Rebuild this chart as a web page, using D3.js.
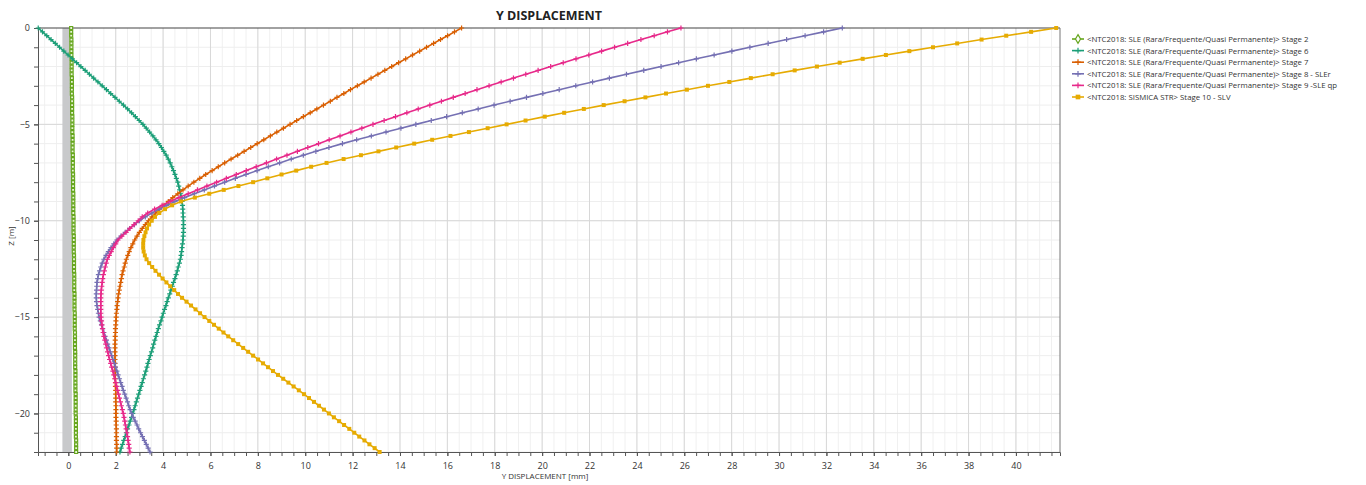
<!DOCTYPE html>
<html>
<head>
<meta charset="utf-8">
<script src="https://cdn.jsdelivr.net/npm/d3@7"></script>
<style>
  body { margin: 0; background: #fff; }
  svg text { font-family: "Open Sans", "Noto Sans", sans-serif; fill: #333; }
</style>
</head>
<body>
<svg id="chart" width="1366" height="485"></svg>
<script>
// depth of the nodes [m]
const depth = [
  0, -0.2, -0.4, -0.6, -0.8, -1, -1.2, -1.4, -1.6, -1.8,
  -2, -2.2, -2.4, -2.6, -2.8, -3, -3.2, -3.4, -3.6, -3.8,
  -4, -4.2, -4.4, -4.6, -4.8, -5, -5.2, -5.4, -5.6, -5.8,
  -6, -6.2, -6.4, -6.6, -6.8, -7, -7.2, -7.4, -7.6, -7.8,
  -8, -8.2, -8.4, -8.6, -8.8, -9, -9.2, -9.4, -9.6, -9.8,
  -10, -10.2, -10.4, -10.6, -10.8, -11, -11.2, -11.4, -11.6, -11.8,
  -12, -12.2, -12.4, -12.6, -12.8, -13, -13.2, -13.4, -13.6, -13.8,
  -14, -14.2, -14.4, -14.6, -14.8, -15, -15.2, -15.4, -15.6, -15.8,
  -16, -16.2, -16.4, -16.6, -16.8, -17, -17.2, -17.4, -17.6, -17.8,
  -18, -18.2, -18.4, -18.6, -18.8, -19, -19.2, -19.4, -19.6, -19.8,
  -20, -20.2, -20.4, -20.6, -20.8, -21, -21.2, -21.4, -21.6, -21.8,
  -22
];

// Y displacement [mm] per stage
const stage2 = [
  .12, .12, .12, .13, .13, .13, .13, .13, .14, .14,
  .14, .14, .14, .15, .15, .15, .15, .15, .16, .16,
  .16, .16, .16, .17, .17, .17, .17, .17, .18, .18,
  .18, .18, .18, .19, .19, .19, .19, .19, .2, .2,
  .2, .2, .2, .21, .21, .21, .21, .21, .21, .22,
  .22, .22, .22, .22, .23, .23, .23, .23, .23, .24,
  .24, .24, .24, .24, .25, .25, .25, .25, .25, .26,
  .26, .26, .26, .26, .27, .27, .27, .27, .27, .28,
  .28, .28, .28, .28, .29, .29, .29, .29, .29, .3,
  .3, .3, .3, .3, .3, .31, .31, .31, .31, .31,
  .31, .32, .32, .32, .32, .32, .32, .33, .33, .33,
  .33
];
const stage6 = [
  -1.27, -1.09, -0.91, -0.73, -0.55, -0.37, -0.19, -0.01, 0.17, 0.35,
  0.53, 0.71, 0.89, 1.07, 1.25, 1.43, 1.61, 1.79, 1.97, 2.15,
  2.33, 2.5, 2.67, 2.83, 2.99, 3.15, 3.29, 3.43, 3.57, 3.7,
  3.82, 3.93, 4.03, 4.13, 4.22, 4.3, 4.37, 4.44, 4.5, 4.56,
  4.62, 4.66, 4.7, 4.74, 4.77, 4.8, 4.82, 4.83, 4.84, 4.85,
  4.86, 4.86, 4.86, 4.86, 4.85, 4.84, 4.82, 4.8, 4.78, 4.76,
  4.73, 4.69, 4.64, 4.6, 4.55, 4.5, 4.44, 4.39, 4.33, 4.28,
  4.22, 4.17, 4.12, 4.06, 4.01, 3.96, 3.91, 3.85, 3.8, 3.75,
  3.7, 3.65, 3.6, 3.56, 3.51, 3.46, 3.41, 3.36, 3.32, 3.27,
  3.22, 3.17, 3.12, 3.07, 3.02, 2.97, 2.92, 2.87, 2.82, 2.77,
  2.72, 2.67, 2.61, 2.56, 2.5, 2.45, 2.4, 2.34, 2.29, 2.23,
  2.18
];
const stage7 = [
  16.6, 16.3, 16.01, 15.71, 15.42, 15.12, 14.83, 14.53, 14.24, 13.94,
  13.65, 13.36, 13.07, 12.78, 12.49, 12.2, 11.91, 11.63, 11.34, 11.06,
  10.77, 10.49, 10.21, 9.92, 9.64, 9.36, 9.08, 8.8, 8.53, 8.25,
  7.97, 7.7, 7.42, 7.15, 6.87, 6.6, 6.33, 6.07, 5.8, 5.55,
  5.3, 5.06, 4.84, 4.62, 4.41, 4.22, 4.04, 3.86, 3.69, 3.53,
  3.38, 3.25, 3.12, 3.0, 2.9, 2.8, 2.72, 2.64, 2.57, 2.51,
  2.45, 2.4, 2.36, 2.31, 2.27, 2.24, 2.21, 2.18, 2.15, 2.12,
  2.1, 2.08, 2.06, 2.05, 2.03, 2.02, 2.01, 2.0, 1.99, 1.99,
  1.98, 1.98, 1.97, 1.97, 1.97, 1.97, 1.97, 1.97, 1.97, 1.98,
  1.98, 1.98, 1.99, 1.99, 2.0, 2.0, 2.0, 2.0, 2.01, 2.01,
  2.01, 2.01, 2.02, 2.02, 2.03, 2.03, 2.03, 2.03, 2.04, 2.04,
  2.04
];
const stage8 = [
  32.67, 31.88, 31.1, 30.32, 29.54, 28.77, 28.01, 27.26, 26.51, 25.76,
  25.02, 24.29, 23.56, 22.84, 22.13, 21.42, 20.72, 20.03, 19.34, 18.65,
  17.97, 17.3, 16.63, 15.97, 15.32, 14.67, 14.04, 13.41, 12.79, 12.17,
  11.57, 11.0, 10.45, 9.92, 9.41, 8.92, 8.44, 7.97, 7.5, 7.05,
  6.6, 6.17, 5.74, 5.32, 4.91, 4.5, 4.16, 3.83, 3.53, 3.25,
  3.0, 2.79, 2.59, 2.4, 2.22, 2.05, 1.92, 1.8, 1.69, 1.59,
  1.5, 1.43, 1.37, 1.32, 1.27, 1.24, 1.21, 1.2, 1.19, 1.18,
  1.18, 1.19, 1.21, 1.24, 1.27, 1.3, 1.35, 1.4, 1.45, 1.5,
  1.55, 1.61, 1.66, 1.72, 1.77, 1.83, 1.88, 1.94, 1.99, 2.05,
  2.1, 2.16, 2.21, 2.27, 2.32, 2.38, 2.44, 2.5, 2.55, 2.61,
  2.67, 2.74, 2.82, 2.9, 2.97, 3.05, 3.13, 3.21, 3.29, 3.37,
  3.45
];
const stage9 = [
  25.86, 25.29, 24.73, 24.17, 23.61, 23.06, 22.51, 21.97, 21.43, 20.89,
  20.36, 19.83, 19.31, 18.79, 18.27, 17.76, 17.25, 16.75, 16.25, 15.75,
  15.26, 14.77, 14.29, 13.81, 13.33, 12.86, 12.39, 11.93, 11.47, 11.01,
  10.56, 10.11, 9.67, 9.23, 8.79, 8.36, 7.93, 7.51, 7.09, 6.67,
  6.26, 5.85, 5.45, 5.06, 4.67, 4.3, 3.96, 3.64, 3.35, 3.12,
  2.95, 2.77, 2.6, 2.44, 2.26, 2.1, 2.0, 1.9, 1.81, 1.73,
  1.65, 1.6, 1.56, 1.52, 1.48, 1.45, 1.43, 1.41, 1.39, 1.38,
  1.37, 1.37, 1.37, 1.37, 1.37, 1.38, 1.4, 1.42, 1.44, 1.47,
  1.5, 1.54, 1.58, 1.62, 1.66, 1.7, 1.74, 1.79, 1.83, 1.88,
  1.92, 1.96, 2.0, 2.04, 2.08, 2.12, 2.16, 2.2, 2.24, 2.28,
  2.32, 2.35, 2.38, 2.41, 2.44, 2.47, 2.5, 2.52, 2.55, 2.57,
  2.6
];
const stage10 = [
  41.7, 40.64, 39.59, 38.55, 37.52, 36.5, 35.5, 34.51, 33.53, 32.56,
  31.6, 30.66, 29.73, 28.81, 27.9, 27.0, 26.11, 25.23, 24.36, 23.48,
  22.6, 21.76, 20.93, 20.11, 19.3, 18.5, 17.7, 16.91, 16.13, 15.36,
  14.6, 13.84, 13.09, 12.35, 11.62, 10.9, 10.25, 9.62, 9.0, 8.4,
  7.8, 7.18, 6.56, 5.95, 5.34, 4.75, 4.38, 4.08, 3.84, 3.66,
  3.52, 3.41, 3.32, 3.26, 3.21, 3.17, 3.16, 3.16, 3.18, 3.23,
  3.3, 3.41, 3.54, 3.68, 3.83, 3.98, 4.14, 4.3, 4.47, 4.63,
  4.8, 4.99, 5.18, 5.37, 5.56, 5.75, 5.95, 6.15, 6.35, 6.55,
  6.75, 6.96, 7.17, 7.38, 7.59, 7.8, 8.01, 8.22, 8.43, 8.64,
  8.85, 9.07, 9.29, 9.51, 9.73, 9.95, 10.16, 10.37, 10.58, 10.79,
  11.0, 11.21, 11.43, 11.64, 11.86, 12.07, 12.28, 12.5, 12.71, 12.93,
  13.14
];

const seriesNames = [
  "<NTC2018: SLE (Rara/Frequente/Quasi Permanente)> Stage 2",
  "<NTC2018: SLE (Rara/Frequente/Quasi Permanente)> Stage 6",
  "<NTC2018: SLE (Rara/Frequente/Quasi Permanente)> Stage 7",
  "<NTC2018: SLE (Rara/Frequente/Quasi Permanente)> Stage 8 - SLEr",
  "<NTC2018: SLE (Rara/Frequente/Quasi Permanente)> Stage 9 -SLE qp",
  "<NTC2018: SISMICA STR> Stage 10 - SLV"
];
const seriesValues = [stage2, stage6, stage7, stage8, stage9, stage10];

// wall section (grey band) [mm]
const wallBand = [-0.25, 0.15];

const xTickLabels = [0, 2, 4, 6, 8, 10, 12, 14, 16, 18, 20, 22, 24, 26, 28, 30, 32, 34, 36, 38, 40];
const yTickLabels = [0, -5, -10, -15, -20];

// ---- styles ----
const colors = ["#66a61e", "#1b9e77", "#d95f02", "#7570b3", "#e7298a", "#e6ab02"];

// plain "+" marker drawn with strokes
const symbolPlus = {
  draw(ctx, size) {
    const r = Math.sqrt(size) / 2;
    ctx.moveTo(-r, 0); ctx.lineTo(r, 0);
    ctx.moveTo(0, -r); ctx.lineTo(0, r);
  }
};

const markers = [
  {type: d3.symbolSquare, size: 9, fill: "#e9f5d6", stroke: true},
  {type: symbolPlus, size: 26, fill: "none", stroke: true},
  {type: symbolPlus, size: 26, fill: "none", stroke: true},
  {type: symbolPlus, size: 26, fill: "none", stroke: true},
  {type: symbolPlus, size: 26, fill: "none", stroke: true},
  {type: d3.symbolSquare, size: 16, fill: null, stroke: false}
];

const svg = d3.select("#chart");
const pLeft = 38, pRight = 1060, pTop = 28, pBottom = 452;

const x = d3.scaleLinear().domain([-1.28, 41.86]).range([pLeft, pRight]);
const y = d3.scaleLinear().domain([-22, 0]).range([pBottom, pTop]);

// minor grid
const gGrid = svg.append("g");
gGrid.selectAll(".vmin")
  .data(d3.range(-1, 42, 0.5))
  .join("line")
  .attr("x1", d => x(d)).attr("x2", d => x(d))
  .attr("y1", pTop).attr("y2", pBottom)
  .attr("stroke", "#f0f0f0").attr("stroke-width", 1);
gGrid.selectAll(".hmin")
  .data(d3.range(-22, 0, 1))
  .join("line")
  .attr("x1", pLeft).attr("x2", pRight)
  .attr("y1", d => y(d)).attr("y2", d => y(d))
  .attr("stroke", "#eeeeee").attr("stroke-width", 1);
// major grid
gGrid.selectAll(".vmaj")
  .data(xTickLabels)
  .join("line")
  .attr("x1", d => x(d)).attr("x2", d => x(d))
  .attr("y1", pTop).attr("y2", pBottom)
  .attr("stroke", "#d8d8d8").attr("stroke-width", 1);
gGrid.selectAll(".hmaj")
  .data(yTickLabels.slice(1))
  .join("line")
  .attr("x1", pLeft).attr("x2", pRight)
  .attr("y1", d => y(d)).attr("y2", d => y(d))
  .attr("stroke", "#d8d8d8").attr("stroke-width", 1);

// wall band
svg.append("rect")
  .attr("x", x(wallBand[0]))
  .attr("y", pTop)
  .attr("width", x(wallBand[1]) - x(wallBand[0]))
  .attr("height", pBottom - pTop)
  .attr("fill", "#c8c9cb");

// axes
const xAxis = svg.append("g")
  .attr("transform", `translate(0,${pBottom})`)
  .call(d3.axisBottom(x).tickValues(d3.range(-1, 42, 0.5)).tickSize(4).tickFormat(""));
xAxis.select(".domain").attr("stroke", "#555");
xAxis.selectAll(".tick line").attr("stroke", "#555");

const xLab = svg.append("g")
  .attr("transform", `translate(0,${pBottom})`)
  .call(d3.axisBottom(x).tickValues(xTickLabels).tickSize(4).tickPadding(7));
xLab.select(".domain").remove();
xLab.selectAll(".tick line").attr("stroke", "#555");
xLab.selectAll("text").attr("font-size", 9).attr("fill", "#333")
  .style("font-family", "'Open Sans', sans-serif");

const yAxis = svg.append("g")
  .attr("transform", `translate(${pLeft},0)`)
  .call(d3.axisLeft(y).tickValues(d3.range(-22, 1, 1)).tickSize(4).tickFormat(""));
yAxis.select(".domain").attr("stroke", "#555");
yAxis.selectAll(".tick line").attr("stroke", "#555");

const yLab = svg.append("g")
  .attr("transform", `translate(${pLeft},0)`)
  .call(d3.axisLeft(y).tickValues(yTickLabels).tickSize(4).tickPadding(4));
yLab.select(".domain").remove();
yLab.selectAll(".tick line").attr("stroke", "#555");
yLab.selectAll("text").attr("font-size", 9).attr("fill", "#333")
  .style("font-family", "'Open Sans', sans-serif");

// frame: top line (z = 0) and right edge
svg.append("line")
  .attr("x1", pLeft).attr("x2", pRight).attr("y1", pTop).attr("y2", pTop)
  .attr("stroke", "#444").attr("stroke-width", 1.2);
svg.append("line")
  .attr("x1", pRight).attr("x2", pRight).attr("y1", pTop).attr("y2", pBottom)
  .attr("stroke", "#777").attr("stroke-width", 1);

// series
const line = d3.line()
  .x(d => x(d.v))
  .y(d => y(d.z));

seriesValues.forEach((vals, i) => {
  const pts = vals.map((v, k) => ({v: v, z: depth[k]}));
  const g = svg.append("g");
  g.append("path")
    .datum(pts)
    .attr("fill", "none")
    .attr("stroke", colors[i])
    .attr("stroke-width", 1.6)
    .attr("d", line);

  const m = markers[i];
  g.selectAll("path.mk")
    .data(pts)
    .join("path")
    .attr("class", "mk")
    .attr("transform", d => `translate(${x(d.v)},${y(d.z)})`)
    .attr("d", d3.symbol().type(m.type).size(m.size))
    .attr("fill", m.fill === null ? colors[i] : m.fill)
    .attr("stroke", m.stroke ? colors[i] : "none")
    .attr("stroke-width", 1.2);
});

// titles
svg.append("text")
  .attr("x", (pLeft + pRight) / 2)
  .attr("y", 20)
  .attr("text-anchor", "middle")
  .attr("font-size", 12.5)
  .attr("font-weight", "bold")
  .style("fill", "#222")
  .text("Y DISPLACEMENT");

svg.append("text")
  .attr("x", 545)
  .attr("y", 479)
  .attr("text-anchor", "middle")
  .attr("font-size", 8)
  .text("Y DISPLACEMENT [mm]");

svg.append("text")
  .attr("transform", `translate(14,${(pTop + pBottom) / 2 - 4}) rotate(-90)`)
  .attr("text-anchor", "middle")
  .attr("font-size", 8)
  .text("Z [m]");

// legend
const legend = svg.append("g").attr("transform", "translate(1072,39)");
seriesNames.forEach((name, i) => {
  const row = legend.append("g").attr("transform", `translate(0,${i * 11.6})`);
  row.append("line")
    .attr("x1", 0).attr("x2", 12).attr("y1", 0).attr("y2", 0)
    .attr("stroke", colors[i]).attr("stroke-width", 1.6);
  const m = markers[i];
  row.append("path")
    .attr("transform", "translate(6,0)")
    .attr("d", d3.symbol().type(i === 0 ? d3.symbolDiamond : m.type).size(i === 0 ? 22 : m.size + 6))
    .attr("fill", m.fill === null ? colors[i] : (i === 0 ? "#fff" : m.fill))
    .attr("stroke", m.stroke ? colors[i] : "none")
    .attr("stroke-width", 1.2);
  row.append("text")
    .attr("x", 15)
    .attr("y", 3)
    .attr("font-size", 7.8)
    .text(name);
});
</script>
</body>
</html>
